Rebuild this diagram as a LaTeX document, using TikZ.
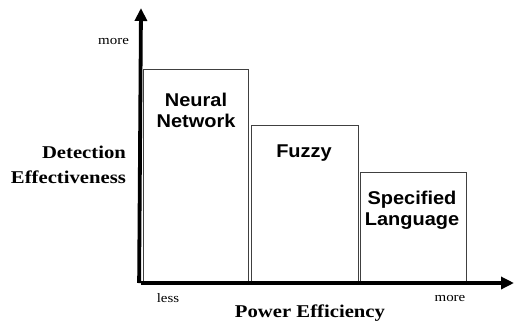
\documentclass[tikz,border=0pt]{standalone}
\usepackage{fontspec}
\setmainfont{Liberation Serif}
\setsansfont{Liberation Sans}
\usepackage{tikz}
\usetikzlibrary{arrows.meta,backgrounds,calc}

\begin{document}
\begin{tikzpicture}[x=1pt,y=-1pt,
  axis/.style={black,line width=3.8pt,-{Triangle[width=12pt,length=13pt]}},
  bar/.style={draw=black!75,line width=0.8pt},
  barlabel/.style={font=\sffamily\bfseries\fontsize{18.5}{21}\selectfont,align=center,xscale=1.08,transform shape},
  ticklabel/.style={font=\fontsize{13}{15}\selectfont,xscale=1.15,transform shape},
  axislabel/.style={font=\bfseries\fontsize{18}{24.5}\selectfont,xscale=1.15,transform shape}]
\useasboundingbox (0,0) rectangle (515,325);
\coordinate (origin) at (141,283);
\coordinate (ytop) at (141,8);
\coordinate (xend) at (514,283);
% bars
\draw[bar] (143,69) rectangle (248,283);
\draw[bar] (251,125) rectangle (358,283);
\draw[bar] (360,172) rectangle (466,283);
\node[barlabel] (nn) at (196,110) {Neural\\Network};
\node[barlabel] (fuzzy) at (304,153) {Fuzzy};
\node[barlabel] (spec) at (412,210) {Specified\\Language};
% axes
\draw[axis] ($(origin)+(-1.9,0)$) -- (ytop);
\draw[axis] (origin) -- (xend);
\node[ticklabel,left] (ymore) at (133,41) {more};
\node[ticklabel] (xless) at (168,298) {less};
\node[ticklabel] (xmore) at (450,298) {more};
\node[axislabel,align=right,left] (ylabel) at (130,165) {Detection\\Effectiveness};
\node[axislabel] (xlabel) at (310,313) {Power Efficiency};
\end{tikzpicture}
\end{document}
